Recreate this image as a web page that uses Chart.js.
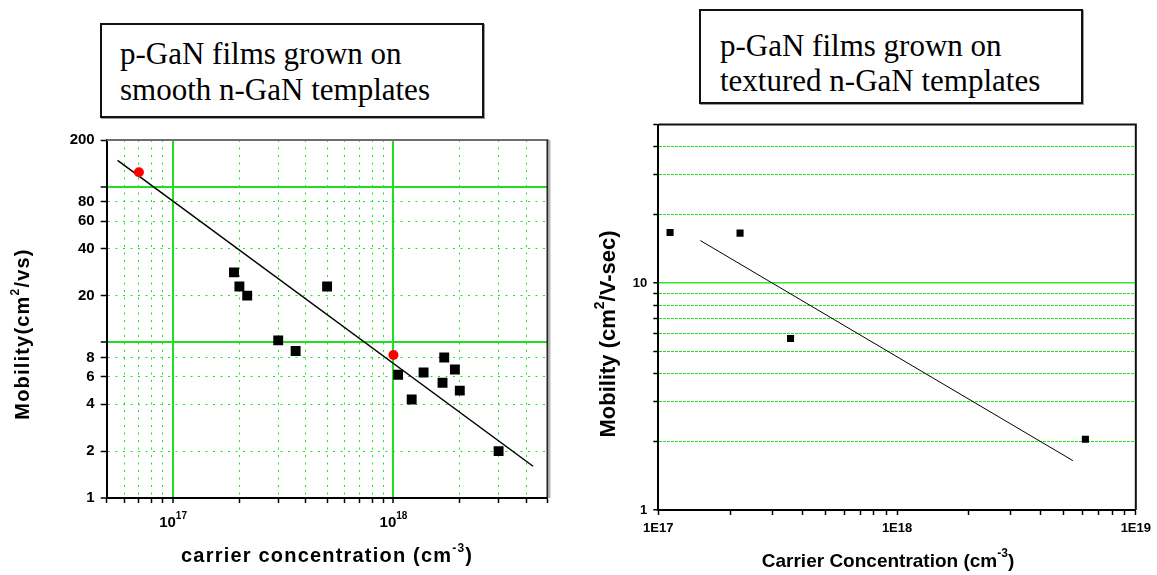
<!DOCTYPE html>
<html>
<head>
<meta charset="utf-8">
<script src="https://cdn.jsdelivr.net/npm/chart.js@4.4.0/dist/chart.umd.min.js"></script>
<style>
  body { margin: 0; width: 1157px; height: 575px; background: #fff; position: relative; overflow: hidden; }
  .box { position: absolute; box-sizing: border-box; border: 2px solid #111; box-shadow: 1px 1px 0 #9a9a9a; }
  .caption { position: absolute; font-family: "Liberation Serif", "Times New Roman", serif; font-size: 31px; color: #000; white-space: nowrap; }
  canvas { position: absolute; }
</style>
</head>
<body>
<div class="box" style="left:100px;top:23px;width:384px;height:95px"></div>
<div class="caption" style="left:120px;top:35.5px;line-height:36px">p-GaN films grown on<br>smooth n-GaN templates</div>
<div class="box" style="left:699px;top:9px;width:384px;height:95px"></div>
<div class="caption" style="left:720px;top:28px;line-height:35px">p-GaN films grown on<br>textured n-GaN templates</div>
<canvas id="smooth" width="575" height="450" style="left:0;top:125px"></canvas>
<canvas id="textured" width="577" height="465" style="left:580px;top:110px"></canvas>
<script>
// p-GaN on smooth n-GaN templates
const smoothConc = [1.89e17, 2.0e17, 2.17e17, 3.0e17, 3.6e17, 5.0e17, 1.05e18, 1.21e18, 1.37e18, 1.70e18, 1.67e18, 1.90e18, 2.0e18, 3.0e18];
const smoothMob = [28.2, 22.9, 20.0, 10.3, 8.8, 22.9, 6.2, 4.3, 6.4, 8.0, 5.5, 6.7, 4.9, 2.0];
const smoothRedConc = [7.0e16, 1.0e18];
const smoothRedMob = [124, 8.3];
const smoothFitConc = [5.6e16, 4.3e18];
const smoothFitMob = [148, 1.6];
const smoothXTicks = [5e16, 6e16, 7e16, 8e16, 9e16, 1e17, 2e17, 3e17, 4e17, 5e17, 6e17, 7e17, 8e17, 9e17, 1e18, 2e18, 3e18, 4e18, 5e18];
const smoothXLabelVals = [1e17, 1e18];
const smoothXLabelExp = ['17', '18'];
const smoothYTicks = [1, 2, 4, 6, 8, 10, 20, 40, 60, 80, 100, 200];
const smoothYLabels = [1, 2, 4, 6, 8, 20, 40, 60, 80, 200];

// p-GaN on textured n-GaN templates
const texturedConc = [1.12e17, 2.2e17, 3.58e17, 6.15e18];
const texturedMob = [16.7, 16.6, 5.7, 2.05];
const texturedFitConc = [1.5e17, 5.45e18];
const texturedFitMob = [15.4, 1.65];
const texturedXTicks = [1e17, 2e17, 3e17, 4e17, 5e17, 6e17, 7e17, 8e17, 9e17, 1e18, 2e18, 3e18, 4e18, 5e18, 6e18, 7e18, 8e18, 9e18, 1e19];
const texturedXLabelVals = [1e17, 1e18, 1e19];
const texturedXLabelText = ['1E17', '1E18', '1E19'];
const texturedYTicks = [1, 2, 3, 4, 5, 6, 7, 8, 9, 10, 20, 30, 40, 50];
const texturedYLabels = [1, 10];

const FONT = '"Liberation Sans", Arial, sans-serif';
const CLEAR = 'rgba(0,0,0,0)';

const pts = (xs, ys) => xs.map((x, i) => ({ x, y: ys[i] }));
const decade = v => Math.abs(Math.log10(v) - Math.round(Math.log10(v))) < 1e-6;
const tickVal = c => (c.tick ? c.tick.value : null);

// draws text runs (normal / superscript) centred on the current origin, baseline at y = 0
function drawRich(ctx, parts, size, spacing, supRatio = 0.62, rise = 0.5) {
  const supSize = Math.round(size * supRatio);
  const fonts = parts.map(p => `bold ${p[1] ? supSize : size}px ${FONT}`);
  ctx.letterSpacing = spacing + 'px';
  ctx.textAlign = 'left';
  ctx.textBaseline = 'alphabetic';
  const widths = parts.map((p, i) => { ctx.font = fonts[i]; return ctx.measureText(p[0]).width; });
  let x = -widths.reduce((a, b) => a + b, 0) / 2;
  parts.forEach((p, i) => {
    ctx.font = fonts[i];
    ctx.fillText(p[0], x, p[1] ? -size * rise : 0);
    x += widths[i];
  });
  ctx.letterSpacing = '0px';
}

const smoothDecor = {
  id: 'smoothDecor',
  beforeDatasetsDraw(chart) {
    const { ctx, chartArea: a } = chart;
    ctx.save();
    ctx.lineWidth = 2;
    ctx.strokeStyle = '#6e6e6e';
    ctx.beginPath(); ctx.moveTo(a.left, a.top); ctx.lineTo(a.right + 1, a.top); ctx.stroke();
    ctx.strokeStyle = '#222';
    ctx.beginPath(); ctx.moveTo(a.right, a.top); ctx.lineTo(a.right, a.bottom); ctx.stroke();
    ctx.strokeStyle = '#b4b4b4';
    ctx.beginPath(); ctx.moveTo(a.right + 2, a.top); ctx.lineTo(a.right + 2, a.bottom); ctx.stroke();
    ctx.restore();
  },
  afterDraw(chart) {
    const { ctx, chartArea: a, scales: { x } } = chart;
    ctx.save();
    ctx.fillStyle = '#000';
    smoothXLabelVals.forEach((v, i) => {
      ctx.save();
      ctx.translate(x.getPixelForValue(v), a.bottom + 29);
      drawRich(ctx, [['10', false], [smoothXLabelExp[i], true]], 15, 0, 0.67, 0.56);
      ctx.restore();
    });
    ctx.save();
    ctx.translate((a.left + a.right) / 2, a.bottom + 64);
    drawRich(ctx, [['carrier concentration (cm', false], ['-3', true], [')', false]], 20, 1.2);
    ctx.restore();
    ctx.save();
    ctx.translate(29, 209);
    ctx.rotate(-Math.PI / 2);
    drawRich(ctx, [['Mobility(cm', false], ['2', true], ['/vs)', false]], 20, 1.2);
    ctx.restore();
    ctx.restore();
  }
};

const texturedDecor = {
  id: 'texturedDecor',
  beforeDatasetsDraw(chart) {
    const { ctx, chartArea: a } = chart;
    ctx.save();
    ctx.lineWidth = 2;
    ctx.strokeStyle = '#111';
    ctx.beginPath();
    ctx.moveTo(a.left, a.top); ctx.lineTo(a.right, a.top); ctx.lineTo(a.right, a.bottom);
    ctx.stroke();
    ctx.restore();
  },
  afterDraw(chart) {
    const { ctx, chartArea: a } = chart;
    ctx.save();
    ctx.fillStyle = '#000';
    ctx.save();
    ctx.translate(308, a.bottom + 57);
    drawRich(ctx, [['Carrier Concentration (cm', false], ['-3', true], [')', false]], 19, 0, 0.65, 0.55);
    ctx.restore();
    ctx.save();
    ctx.translate(34.6, 224);
    ctx.rotate(-Math.PI / 2);
    drawRich(ctx, [['Mobility (cm', false], ['2', true], ['/V-sec)', false]], 22, 0);
    ctx.restore();
    ctx.restore();
  }
};

const baseOptions = {
  responsive: false,
  animation: false,
  events: [],
  plugins: { legend: { display: false }, tooltip: { enabled: false } }
};

new Chart(document.getElementById('smooth'), {
  type: 'scatter',
  data: {
    datasets: [
      { data: pts(smoothRedConc, smoothRedMob), pointStyle: 'circle', pointRadius: 5, backgroundColor: '#ff0000', borderWidth: 0 },
      { data: pts(smoothConc, smoothMob), pointStyle: 'rect', pointRadius: 7, backgroundColor: '#000', borderWidth: 0 },
      { data: pts(smoothFitConc, smoothFitMob), showLine: true, borderColor: '#000', borderWidth: 1.5, pointRadius: 0 }
    ]
  },
  options: {
    ...baseOptions,
    layout: { padding: { left: 0, top: 14, right: 27.5, bottom: 0 } },
    scales: {
      x: {
        type: 'logarithmic', min: 5e16, max: 5e18,
        afterBuildTicks: s => { s.ticks = smoothXTicks.map(value => ({ value })); },
        afterFit: s => { s.height = 77; },
        ticks: { callback: () => '', autoSkip: false, padding: 0 },
        grid: {
          color: c => {
            const v = tickVal(c);
            if (v === null || v === 5e16 || v === 5e18) return CLEAR;
            return decade(v) ? '#1ee01e' : '#18e618';
          },
          lineWidth: c => (tickVal(c) && decade(tickVal(c)) ? 2 : 1),
          tickColor: '#000', tickWidth: 1.5, tickLength: 5
        },
        border: { color: '#000', width: 2, dash: c => (tickVal(c) && !decade(tickVal(c)) ? [2, 5.5] : []) }
      },
      y: {
        type: 'logarithmic', min: 1, max: 200,
        afterBuildTicks: s => { s.ticks = smoothYTicks.map(value => ({ value })); },
        afterFit: s => { s.width = 106.7; },
        ticks: {
          callback: v => (smoothYLabels.includes(v) ? String(v) : ''),
          autoSkip: false, padding: 6, color: '#000',
          font: { family: FONT, size: 15, weight: 'bold' }
        },
        grid: {
          color: c => {
            const v = tickVal(c);
            if (v === null || v === 1 || v === 200) return CLEAR;
            return decade(v) ? '#1ee01e' : '#18e618';
          },
          lineWidth: c => (tickVal(c) && decade(tickVal(c)) ? 2 : 1),
          tickColor: '#000', tickWidth: 1.5, tickLength: 6
        },
        border: { color: '#000', width: 2, dash: c => (tickVal(c) && !decade(tickVal(c)) ? [2, 5.5] : []) }
      }
    }
  },
  plugins: [smoothDecor]
});

new Chart(document.getElementById('textured'), {
  type: 'scatter',
  data: {
    datasets: [
      { data: pts(texturedConc, texturedMob), pointStyle: 'rect', pointRadius: 5, backgroundColor: '#000', borderWidth: 0 },
      { data: pts(texturedFitConc, texturedFitMob), showLine: true, borderColor: '#000', borderWidth: 1, pointRadius: 0 }
    ]
  },
  options: {
    ...baseOptions,
    layout: { padding: { left: 0, top: 14.5, right: 20, bottom: 0 } },
    scales: {
      x: {
        type: 'logarithmic', min: 1e17, max: 1e19,
        afterBuildTicks: s => { s.ticks = texturedXTicks.map(value => ({ value })); },
        afterFit: s => { s.height = 65; },
        ticks: {
          callback: v => {
            const i = texturedXLabelVals.indexOf(v);
            return i < 0 ? '' : texturedXLabelText[i];
          },
          autoSkip: false, maxRotation: 0, padding: 6, color: '#000',
          font: { family: FONT, size: 13, weight: 'bold' }
        },
        grid: { drawOnChartArea: false, tickColor: '#000', tickWidth: 1.5, tickLength: 5 },
        border: { color: '#000', width: 2 }
      },
      y: {
        type: 'logarithmic', min: 1, max: 50,
        afterBuildTicks: s => { s.ticks = texturedYTicks.map(value => ({ value })); },
        afterFit: s => { s.width = 78.3; },
        ticks: {
          callback: v => (texturedYLabels.includes(v) ? String(v) : ''),
          autoSkip: false, padding: 6, color: '#000',
          font: { family: FONT, size: 13, weight: 'bold' }
        },
        grid: {
          color: c => {
            const v = tickVal(c);
            if (v === null || v === 1 || v === 50) return CLEAR;
            return decade(v) ? '#2ee62e' : '#22e022';
          },
          lineWidth: c => (tickVal(c) && decade(tickVal(c)) ? 1.5 : 1),
          tickColor: '#000', tickWidth: 1.5, tickLength: 5
        },
        border: { color: '#000', width: 2, dash: c => (tickVal(c) && !decade(tickVal(c)) ? [3, 1] : []) }
      }
    }
  },
  plugins: [texturedDecor]
});
</script>
</body>
</html>
